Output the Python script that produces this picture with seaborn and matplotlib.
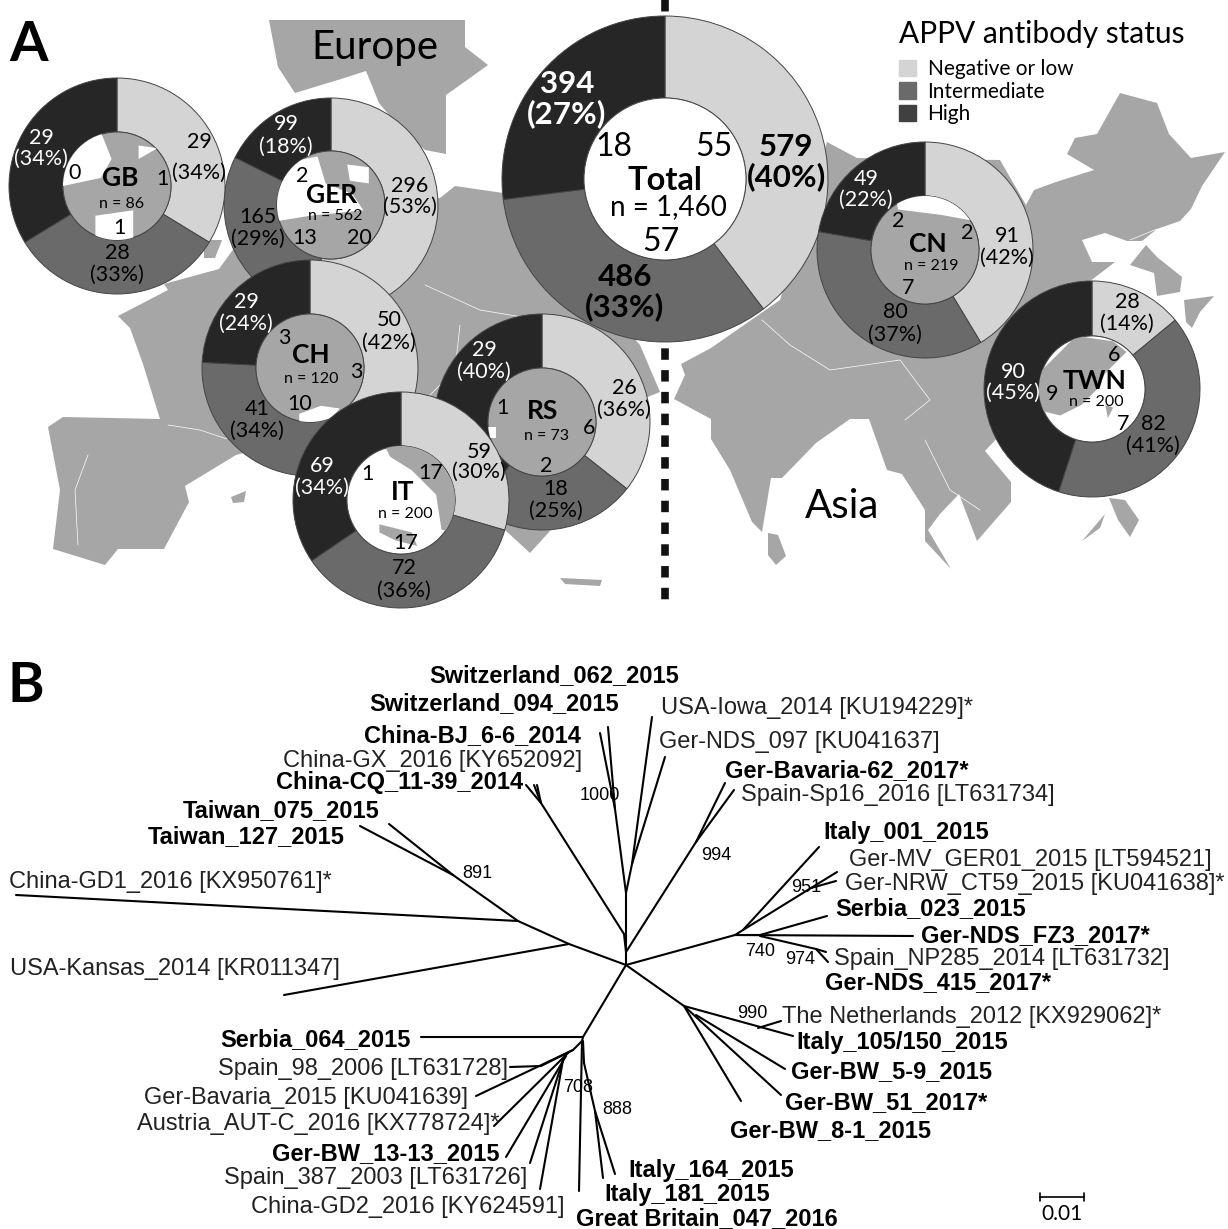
import matplotlib
matplotlib.use('Agg')
import matplotlib.pyplot as plt
from matplotlib.patches import Circle, Patch
import pandas as pd
import seaborn as sns

sns.set_theme(style='white')
plt.rcParams['font.family'] = ['Lato', 'DejaVu Sans']
plt.rcParams['text.color'] = 'black'

# --- panel A data ---
regions = ['GER', 'GB', 'CH', 'RS', 'IT', 'Total', 'CN', 'TWN']
sample_n = ['562', '86', '120', '73', '200', '1,460', '219', '200']
ring_neg = [296, 29, 50, 26, 59, 579, 91, 28]
ring_int = [165, 28, 41, 18, 72, 486, 80, 82]
ring_high = [99, 29, 29, 29, 69, 394, 49, 90]
pct_neg = [53, 34, 42, 36, 30, 40, 42, 14]
pct_int = [29, 33, 34, 25, 36, 33, 37, 41]
pct_high = [18, 34, 24, 40, 34, 27, 22, 45]
inner_neg = [20, 1, 3, 6, 17, 55, 2, 6]
inner_int = [13, 1, 10, 2, 17, 57, 7, 7]
inner_high = [2, 0, 3, 1, 1, 18, 2, 9]
status_names = ['Negative or low', 'Intermediate', 'High']

# --- panel B data: branches as start/end points, labels, bootstrap values ---
branch_x0 = [626, 569, 518, 453, 453, 518, 569, 626, 583, 583, 582, 573, 541, 573, 569, 566, 563, 563, 582, 583, 584, 595, 595,
             626, 624, 624, 541, 541, 541, 626, 626, 615, 615, 632, 632, 626, 626, 696, 696, 626, 735, 743, 743, 811, 811, 735, 735, 760, 760, 816, 816,
             626, 684, 684, 696, 684, 758]
branch_y0 = [965, 944, 921, 875, 875, 921, 944, 965, 1037, 1037, 1041, 1050, 1066, 1050, 1052, 1056, 1060, 1060, 1041, 1041, 1063, 1111, 1111,
             965, 934, 934, 803, 803, 803, 952, 893, 809, 809, 864, 864, 893, 952, 842, 842, 965, 935, 930, 930, 888, 888, 935, 935, 935, 936, 949, 949,
             965, 1006, 1006, 1015, 1006, 1028]
branch_x1 = [569, 518, 453, 360, 389, 16, 284, 583, 421, 582, 573, 476, 510, 541, 494, 506, 530, 540, 579, 584, 595, 603, 615,
             626, 541, 626, 526, 534, 537, 626, 615, 600, 608, 652, 665, 632, 696, 725, 734, 735, 743, 819, 811, 837, 836, 913, 760, 827, 816, 828, 826,
             684, 741, 781, 785, 793, 781]
branch_y1 = [944, 921, 875, 826, 824, 895, 995, 1037, 1037, 1041, 1050, 1096, 1067, 1066, 1126, 1157, 1163, 1189, 1191, 1063, 1111, 1178, 1174,
             952, 803, 952, 785, 785, 785, 893, 809, 733, 727, 717, 757, 864, 842, 783, 790, 935, 930, 847, 888, 872, 881, 936, 935, 916, 949, 962, 952,
             1006, 1101, 1095, 1069, 1036, 1021]

bold_labels = ['Switzerland_062_2015', 'Switzerland_094_2015', 'China-BJ_6-6_2014', 'China-CQ_11-39_2014', 'Taiwan_075_2015',
               'Taiwan_127_2015', 'Serbia_064_2015', 'Ger-BW_13-13_2015', 'Great Britain_047_2016', 'Italy_181_2015',
               'Italy_164_2015', 'Ger-BW_8-1_2015', 'Ger-BW_51_2017*', 'Ger-BW_5-9_2015', 'Italy_105/150_2015',
               'Ger-NDS_415_2017*', 'Ger-NDS_FZ3_2017*', 'Serbia_023_2015', 'Italy_001_2015', 'Ger-Bavaria-62_2017*']
plain_labels = ['China-GX_2016 [KY652092]', 'China-GD1_2016 [KX950761]*', 'USA-Kansas_2014 [KR011347]',
                'Spain_98_2006 [LT631728]', 'Ger-Bavaria_2015 [KU041639]', 'Austria_AUT-C_2016 [KX778724]*',
                'Spain_387_2003 [LT631726]', 'China-GD2_2016 [KY624591]', 'The Netherlands_2012 [KX929062]*',
                'Spain_NP285_2014 [LT631732]', 'Ger-NRW_CT59_2015 [KU041638]*', 'Ger-MV_GER01_2015 [LT594521]',
                'Spain-Sp16_2016 [LT631734]', 'Ger-NDS_097 [KU041637]', 'USA-Iowa_2014 [KU194229]*']
boot_values = ['1000', '891', '994', '951', '740', '974', '990', '708', '888']

# --- layout, all in pixels of the picture ---
bold_pos = [(429, 676), (369, 704), (364, 736), (276, 783), (183, 811), (148, 837), (220, 1040), (272, 1154), (576, 1219),
            (604, 1194), (628, 1171), (730, 1131), (785, 1103), (791, 1072), (796, 1043), (825, 983), (921, 936), (835, 909),
            (823, 833), (725, 771)]
plain_pos = [(283, 761), (9, 882), (10, 969), (218, 1069), (144, 1098), (137, 1124), (224, 1178), (251, 1207), (782, 1017),
             (834, 959), (845, 884), (849, 860), (741, 795), (659, 742), (661, 708)]
boot_pos = [(600, 795), (477, 873), (716, 856), (806, 887), (760, 952), (800, 960), (752, 1014), (578, 1088), (617, 1109)]

centers = [(331, 205), (117, 186), (310, 368), (542, 422), (401, 500), (665, 179), (925, 250), (1092, 389)]
radius = [107, 108, 108, 108, 108, 163, 108, 108]
radius_in = [54, 54, 54, 54, 54, 81, 54, 53]
# label spots: (x, first line y, second line y)
neg_pos = [(410, 186, 207), (199, 142, 173), (389, 320, 343), (624, 388, 410), (479, 452, 472), (786, 147, 177), (1007, 236, 258), (1127, 302, 324)]
int_pos = [(258, 217, 239), (117, 253, 275), (257, 409, 431), (556, 489, 511), (404, 568, 591), (625, 277, 307), (895, 312, 335), (1153, 424, 446)]
high_pos = [(286, 124, 147), (41, 138, 159), (246, 302, 324), (484, 350, 372), (322, 466, 488), (567, 84, 114), (866, 179, 200), (1013, 372, 393)]
in_neg_pos = [(359, 238), (162, 179), (356, 372), (589, 428), (431, 473), (714, 147), (967, 233), (1114, 355)]
in_int_pos = [(305, 238), (119, 228), (300, 404), (546, 466), (406, 543), (661, 242), (908, 288), (1123, 424)]
in_high_pos = [(302, 176), (75, 173), (284, 338), (502, 408), (367, 474), (614, 147), (898, 221), (1052, 394)]
name_pos = [(332, 195), (120, 178), (311, 355), (543, 411), (403, 492), (665, 180), (928, 244), (1095, 381)]
n_pos = [(335, 216), (122, 204), (311, 379), (546, 436), (405, 514), (668, 207), (931, 266), (1096, 402)]

# background map outlines
map_shapes = [
    [(269, 20), (465, 20), (465, 47), (488, 65), (470, 78), (446, 95), (446, 154), (425, 150), (400, 128), (379, 103), (366, 71), (341, 79), (295, 93), (278, 67)],
    [(118, 316), (168, 290), (164, 284), (219, 269), (240, 240), (440, 198), (455, 186), (510, 194), (640, 345), (660, 392), (640, 400), (610, 420), (600, 500),
     (560, 520), (530, 553), (505, 530), (450, 480), (400, 400), (330, 430), (236, 455), (185, 486), (189, 502), (164, 549), (118, 549), (105, 565), (53, 549),
     (60, 490), (48, 427), (63, 417), (160, 419), (143, 364), (130, 328)],
    [(204, 240), (222, 240), (215, 258), (204, 258)],
    [(827, 142), (857, 158), (1000, 160), (1026, 205), (1034, 190), (1056, 182), (1094, 170), (1067, 154), (1075, 138), (1097, 134), (1120, 93), (1157, 103), (1169, 134),
     (1191, 158), (1225, 152), (1202, 186), (1191, 209), (1180, 221), (1157, 229), (1142, 241), (1127, 241), (1105, 233), (1082, 240), (1092, 262), (1115, 262), (1085, 285), (1095, 320),
     (1100, 440), (1050, 440), (1000, 435), (985, 451), (1011, 482), (1011, 502), (977, 541), (959, 494), (940, 514), (928, 530), (951, 569), (925, 541), (925, 510), (902, 474), (887, 470),
     (869, 419), (850, 419), (816, 443), (782, 478), (771, 478), (762, 532), (752, 522), (730, 470), (711, 439), (711, 419), (696, 411), (674, 399), (685, 375), (681, 364), (711, 348), (780, 300)],
    [(1146, 245), (1157, 257), (1182, 277), (1180, 292), (1157, 296), (1154, 273), (1130, 265)],
    [(768, 533), (778, 535), (786, 556), (776, 565), (768, 555)],
    [(1184, 300), (1214, 296), (1200, 312), (1192, 328), (1186, 322)],
    [(1109, 498), (1125, 500), (1139, 520), (1130, 537), (1118, 520)],
    [(1082, 541), (1105, 514), (1100, 528)],
    [(560, 578), (602, 580), (600, 586), (565, 584)],
    [(231, 497), (246, 491), (244, 502), (233, 503)],
]
border_lines = [
    [(168, 425), (200, 430), (227, 439)],
    [(88, 455), (75, 490), (78, 545)],
    [(425, 285), (480, 310), (540, 320)],
    [(460, 325), (455, 370), (430, 395)],
    [(762, 320), (790, 345), (830, 370), (900, 360), (930, 400), (905, 420)],
    [(1157, 229), (1130, 240)],
    [(925, 440), (950, 490), (980, 510)],
]

# small zoomed maps inside the inner discs: base colour + polygons in the other colour, unit circle coords
inner_base = ['#a6a6a6', '#a6a6a6', '#a6a6a6', '#a6a6a6', 'white', 'white', '#a6a6a6', 'white']
inner_shapes = [
    [[(-1, -0.75), (-0.25, -0.9), (-0.1, -0.4), (0.4, -0.2), (0.6, 0.1), (0.1, 0.15), (-0.4, 0.2), (-1, 0.3)],
     [(0.3, -0.75), (0.7, -0.7), (0.7, -0.4), (0.35, -0.45)]],
    [[(-1, -1), (-0.3, -1), (-0.1, -0.5), (-0.3, -0.15), (-1, 0.0)], [(-0.4, 0.55), (0.3, 0.45), (0.3, 1), (-0.4, 1)],
     [(0.4, -0.75), (0.75, -0.7), (0.4, -0.5)]],
    [[(-0.2, 0.85), (0.2, 0.7), (0.55, 0.75), (0.3, 1.05), (-0.2, 1.05)]],
    [[(-1, 0.1), (-0.85, 0.1), (-0.85, 0.3), (-1, 0.3)]],
    [[(-0.3, -1), (0.5, -1), (1, -0.3), (1, 0.6), (0.75, 0.55), (0.65, -0.1), (0.2, -0.55), (-0.2, -0.8)],
     [(-0.4, 0.45), (0.2, 0.6), (0.3, 0.85), (-0.1, 0.75), (-0.4, 0.6)]],
    [],
    [[(-0.55, -1.05), (0.7, -1.05), (0.85, -0.55), (0.3, -0.65), (-0.5, -0.75)]],
    [[(-1, -0.3), (-0.3, -1), (0.4, -0.9), (0.65, -0.7), (0.25, -0.3), (0.1, 0.0), (-0.2, 0.3), (-0.6, 0.5), (-1, 0.4)],
     [(0.25, 0.3), (0.4, 0.35), (0.3, 0.55)]],
]
other_colour = {'white': '#a6a6a6', '#a6a6a6': 'white'}

ring_colours = ['#d4d4d4', '#6a6a6a', '#262626']
legend_colours = ['#d4d4d4', '#6a6a6a', '#404040']

fig = plt.figure(figsize=(12.28, 12.29), dpi=100)
ax = fig.add_axes([0, 0, 1, 1])

# map first, everything else sits on it
for shape in map_shapes:
    ax.fill([p[0] for p in shape], [p[1] for p in shape], color='#a6a6a6', lw=0, zorder=0.2)
for line in border_lines:
    ax.plot([p[0] for p in line], [p[1] for p in line], color='white', lw=0.5, zorder=0.3)

# dashed continent divider
ax.plot([665, 665], [0, 608], color='#111111', lw=5.5, dashes=(1.5, 1.35), zorder=0.5)

# donuts (y axis is inverted, so -90 and counterclock gives clockwise from the top)
for i, name in enumerate(regions):
    vals = [ring_neg[i], ring_int[i], ring_high[i]]
    ax.pie(vals, colors=ring_colours, center=centers[i], radius=radius[i], startangle=-90, counterclock=True,
           wedgeprops=dict(width=radius[i] - radius_in[i], edgecolor='#444444', linewidth=0.7, zorder=1))
    disc = Circle(centers[i], radius_in[i], facecolor=inner_base[i], edgecolor='#444444', lw=0.7, zorder=1)
    ax.add_patch(disc)
    for shape in inner_shapes[i]:
        xs = [centers[i][0] + p[0] * radius_in[i] for p in shape]
        ys = [centers[i][1] + p[1] * radius_in[i] for p in shape]
        for poly in ax.fill(xs, ys, color=other_colour[inner_base[i]], lw=0, zorder=1):
            poly.set_clip_path(disc)

    big = name == 'Total'
    ring_size = 22.5 if big else 15.5
    ring_weight = 'bold' if big else 'normal'
    for val, pct, pos, col in [(ring_neg[i], pct_neg[i], neg_pos[i], 'black'),
                               (ring_int[i], pct_int[i], int_pos[i], 'black'),
                               (ring_high[i], pct_high[i], high_pos[i], 'white')]:
        ax.text(pos[0], pos[1], str(val), color=col, fontsize=ring_size, fontweight=ring_weight, ha='center', va='center')
        ax.text(pos[0], pos[2], f'({pct}%)', color=col, fontsize=ring_size, fontweight=ring_weight, ha='center', va='center')
    for val, pos in [(inner_neg[i], in_neg_pos[i]), (inner_int[i], in_int_pos[i]), (inner_high[i], in_high_pos[i])]:
        ax.text(pos[0], pos[1], str(val), color='black', fontsize=23 if big else 15.5, ha='center', va='center')
    ax.text(name_pos[i][0], name_pos[i][1], name, fontsize=23.5 if big else 19, fontweight='bold', ha='center', va='center')
    ax.text(n_pos[i][0], n_pos[i][1], f'n = {sample_n[i]}', fontsize=20 if big else 11.5, ha='center', va='center')

ax.text(29, 45, 'A', fontsize=40, fontweight='bold', ha='center', va='center')
ax.text(26, 686, 'B', fontsize=40, fontweight='bold', ha='center', va='center')
ax.text(375, 48, 'Europe', fontsize=29, ha='center', va='center')
ax.text(842, 507, 'Asia', fontsize=29, ha='center', va='center')

handles = [Patch(color=c, label=s) for c, s in zip(legend_colours, status_names)]
leg = ax.legend(handles=handles, title='APPV antibody status', loc='upper left', bbox_to_anchor=(899, 20),
                bbox_transform=ax.transData, frameon=False, fontsize=15, title_fontsize=21.5, alignment='left',
                handlelength=0.82, handleheight=0.85, handletextpad=0.55, labelspacing=0.12, borderpad=0, borderaxespad=0)
leg._legend_box.sep = 8  # more room under the title

# tree
tree = pd.DataFrame({'x': branch_x0 + branch_x1, 'y': branch_y0 + branch_y1,
                     'branch': list(range(len(branch_x0))) * 2})
sns.lineplot(data=tree, x='x', y='y', units='branch', estimator=None, sort=False, color='black', lw=1.5, legend=False, ax=ax)

tree_font = ['Liberation Sans', 'DejaVu Sans']
for label, pos in zip(bold_labels, bold_pos):
    ax.text(pos[0], pos[1], label, fontsize=17, fontweight='bold', family=tree_font, ha='left', va='center')
for label, pos in zip(plain_labels, plain_pos):
    ax.text(pos[0], pos[1], label, fontsize=17, color='#222222', family=tree_font, ha='left', va='center')
for label, pos in zip(boot_values, boot_pos):
    ax.text(pos[0], pos[1], label, fontsize=13, family=tree_font, ha='center', va='center')

# scale bar
ax.plot([1040, 1084], [1197, 1197], color='black', lw=1.2)
ax.plot([1040, 1040], [1193, 1201], color='black', lw=1.2)
ax.plot([1084, 1084], [1193, 1201], color='black', lw=1.2)
ax.text(1062, 1214, '0.01', fontsize=15, ha='center', va='center')

ax.set_xlim(0, 1228)
ax.set_ylim(1229, 0)
ax.set_aspect('auto')
ax.set_xlabel('')
ax.set_ylabel('')
ax.axis('off')
fig.savefig('out.png', dpi=100, facecolor='white')
